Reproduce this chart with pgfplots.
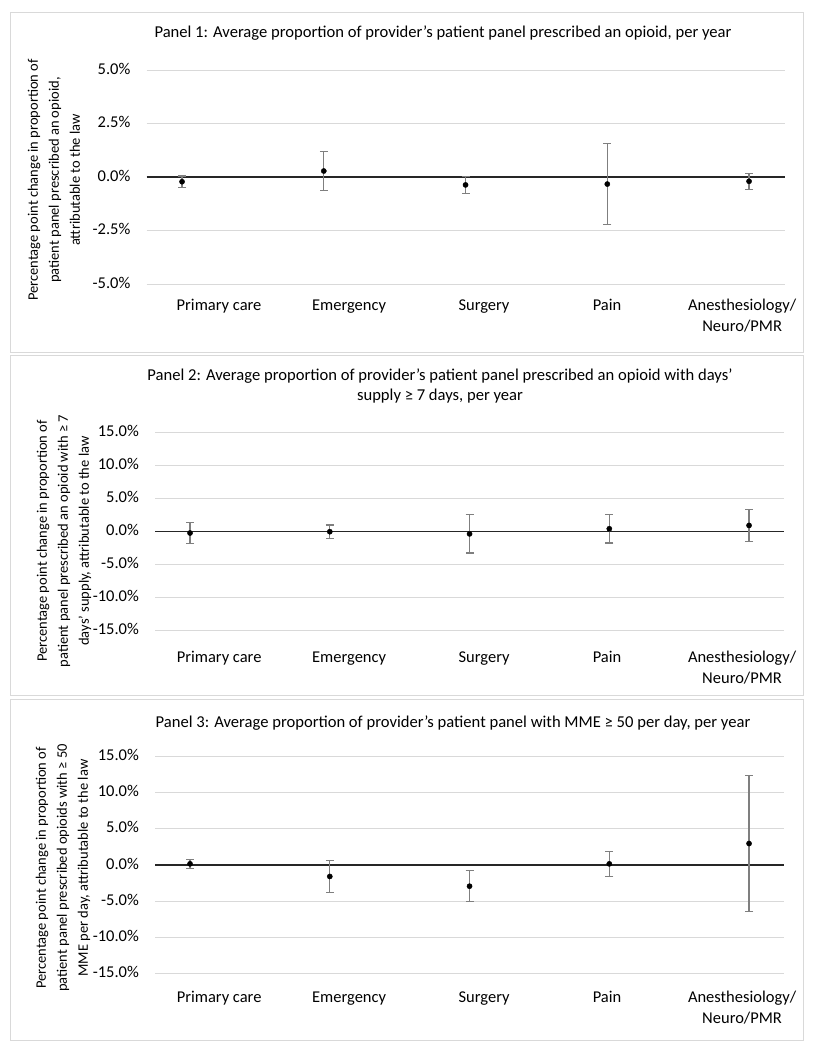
\documentclass[border=0pt]{standalone}
\usepackage{fontspec}
\setmainfont{Carlito}
\usepackage{pgfplots}
\usepackage{pgfplotstable}
\pgfplotsset{compat=1.18}
\definecolor{gridgray}{HTML}{D9D9D9}
\definecolor{errgray}{HTML}{7F7F7F}
\definecolor{boxgray}{HTML}{D9D9D9}

% columns: category index, estimate, upper extent, lower extent
\pgfplotstableread{
x y ep em
0 -0.22 0.27 0.28
1 0.28 0.92 0.90
2 -0.37 0.40 0.41
3 -0.33 1.90 1.90
4 -0.20 0.37 0.38
}\panelone
\pgfplotstableread{
x y ep em
0 -0.20 1.56 1.56
1 0.00 1.00 1.00
2 -0.33 2.90 2.90
3 0.45 2.17 2.17
4 0.95 2.44 2.44
}\paneltwo
\pgfplotstableread{
x y ep em
0 0.14 0.60 0.60
1 -1.60 2.22 2.22
2 -2.94 2.15 2.15
3 0.14 1.74 1.74
4 2.94 9.35 9.40
}\panelthree

\pgfplotsset{
  panel/.style={
    scale only axis, anchor=south west, clip=false,
    xmin=-0.25, xmax=4.25,
    axis line style={draw=none},
    major tick length=0pt,
    ymajorgrids, xmajorgrids=false,
    grid style={gridgray, line width=1pt},
    tick label style={font=\fontsize{16.5}{21}\selectfont},
    typeset ticklabels with strut,
    yticklabel style={anchor=east, inner sep=0pt, xshift=-16pt},
    xticklabel style={anchor=north, align=center, inner sep=0pt},
    xticklabels={Primary care, Emergency, Surgery, Pain, {Anesthesiology/\\Neuro/PMR}},
  },
  errplot/.style={only marks, mark=*, mark size=2.6pt,
    mark options={black, fill=black},
    error bars/.cd, y dir=both, y explicit,
    error bar style={errgray, line width=1.3pt},
    error mark options={errgray, line width=1.3pt, mark size=4pt, rotate=90}},
}

\begin{document}
\begin{tikzpicture}
\useasboundingbox (0,0) rectangle (817pt,-1050pt);
\fill[white] (0,0) rectangle (817pt,-1050pt);
% panel frames
\draw[boxgray, line width=1pt] (10.5pt,-12pt) rectangle (803.5pt,-352pt);
\draw[boxgray, line width=1pt] (10.5pt,-355pt) rectangle (803.5pt,-695pt);
\draw[boxgray, line width=1pt] (10.5pt,-699pt) rectangle (803.5pt,-1040pt);

% ---------- Panel 1 ----------
\begin{axis}[panel,
  at={(146.6pt,-284pt)}, width=637.9pt, height=214pt,
  ymin=-5, ymax=5,
  ytick={-5,-2.5,0,2.5,5},
  yticklabels={-5.0\%,-2.5\%,0.0\%,2.5\%,5.0\%},
  xtick={0.261,1.178,2.130,2.998,3.951},
  xticklabel style={yshift=-12pt},
]
\addplot[black!85, line width=1.5pt, forget plot] coordinates {(-0.25,0) (4.25,0)};
\addplot[errplot] table[x=x, y=y, y error plus=ep, y error minus=em] {\panelone};
\end{axis}
\node[font=\fontsize{16.6}{20.5}\selectfont] at (443pt,-33pt)
  {Panel 1: Average proportion of provider’s patient panel prescribed an opioid, per year};
\node[rotate=90, align=center, font=\fontsize{14.5}{21}\selectfont] at (54pt,-180pt)
  {Percentage point change in proportion of\\patient panel prescribed an opioid,\\attributable to the law};

% ---------- Panel 2 ----------
\begin{axis}[panel,
  at={(155.1pt,-630.7pt)}, width=628.9pt, height=198pt,
  ymin=-15, ymax=15,
  ytick={-15,-10,-5,0,5,10,15},
  yticklabels={-15.0\%,-10.0\%,-5.0\%,0.0\%,5.0\%,10.0\%,15.0\%},
  xtick={0.208,1.138,2.104,2.984,3.950},
  xticklabel style={yshift=-17pt},
]
\addplot[black!85, line width=1.5pt, forget plot] coordinates {(-0.25,0) (4.25,0)};
\addplot[errplot] table[x=x, y=y, y error plus=ep, y error minus=em] {\paneltwo};
\end{axis}
\node[align=center, font=\fontsize{16.6}{20.7}\selectfont] at (440pt,-386pt)
  {Panel 2: Average proportion of provider’s patient panel prescribed an opioid with days’\\supply ≥ 7 days, per year};
\node[rotate=90, align=center, font=\fontsize{14.5}{21}\selectfont] at (64pt,-541pt)
  {Percentage point change in proportion of\\patient panel prescribed an opioid with ≥ 7\\days’ supply, attributable to the law};

% ---------- Panel 3 ----------
\begin{axis}[panel,
  at={(155.1pt,-973.7pt)}, width=628.9pt, height=217.7pt,
  ymin=-15, ymax=15,
  ytick={-15,-10,-5,0,5,10,15},
  yticklabels={-15.0\%,-10.0\%,-5.0\%,0.0\%,5.0\%,10.0\%,15.0\%},
  xtick={0.208,1.138,2.104,2.984,3.950},
  xticklabel style={yshift=-13.6pt},
]
\addplot[black!85, line width=1.5pt, forget plot] coordinates {(-0.25,0) (4.25,0)};
\addplot[errplot] table[x=x, y=y, y error plus=ep, y error minus=em] {\panelthree};
\end{axis}
\node[font=\fontsize{16.6}{20.5}\selectfont] at (453pt,-723pt)
  {Panel 3: Average proportion of provider’s patient panel with MME ≥ 50 per day, per year};
\node[rotate=90, align=center, font=\fontsize{14.5}{21}\selectfont] at (63pt,-868pt)
  {Percentage point change in proportion of\\patient panel prescribed opioids with ≥ 50\\MME per day, attributable to the law};
\end{tikzpicture}
\end{document}
